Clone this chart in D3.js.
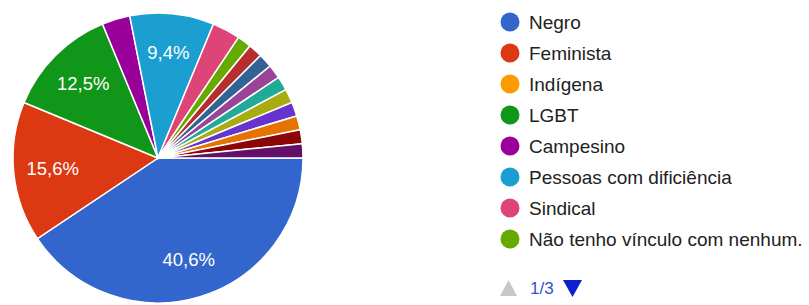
<!DOCTYPE html>
<html><head><meta charset="utf-8">
<script src="https://cdn.jsdelivr.net/npm/d3@7"></script>
<style>html,body{margin:0;padding:0;background:#fff;}svg{display:block;}</style>
</head><body><svg id="c" width="809" height="305"></svg>
<script>
const categories = ["Negro","Feminista","Indígena","LGBT","Campesino","Pessoas com dificiência","Sindical","Não tenho vínculo com nenhum.",
  "Outro 9","Outro 10","Outro 11","Outro 12","Outro 13","Outro 14","Outro 15","Outro 16","Outro 17"];
const counts = [26,10,0,8,2,6,2,1,1,1,1,1,1,1,1,1,1];
const colors = ["#3366cc","#dc3912","#ff9900","#109618","#990099","#1a9fd0","#dd4477","#66aa00","#b82e2e","#316395","#994499","#22aa99","#aaaa11","#6633cc","#e67300","#8b0707","#651067"];
const legendPage = "1/3";
const legendCount = 8;

const svg = d3.select("#c");
const cx = 158, cy = 158, R = 145;
const total = d3.sum(counts);
const data = categories.map((c,i)=>({name:c, value:counts[i], color:colors[i]}));
const pie = d3.pie().value(d=>d.value).sort(null).startAngle(Math.PI/2).endAngle(Math.PI/2 + 2*Math.PI);
const arcs = pie(data).filter(a=>a.data.value>0);
const arc = d3.arc().innerRadius(0).outerRadius(R);
const labelArc = d3.arc().innerRadius(R*0.73).outerRadius(R*0.73);
const g = svg.append("g").attr("transform",`translate(${cx},${cy})`);
g.selectAll("path").data(arcs).join("path").attr("d",arc).attr("fill",d=>d.data.color)
  .attr("stroke","#fff").attr("stroke-width",1.5);
const fmt = v => (v/total*100).toFixed(1).replace(".",",")+"%";
g.selectAll("text").data(arcs.filter(a=>a.data.value/total>0.05)).join("text")
  .attr("transform",d=>`translate(${labelArc.centroid(d)})`)
  .attr("text-anchor","middle").attr("dy","0.35em")
  .attr("fill","#fff").attr("font-family","'Liberation Sans',Arial,sans-serif").attr("font-size",18.5)
  .text(d=>fmt(d.data.value));

const lg = svg.append("g").attr("transform","translate(510,22)");
const items = data.slice(0,legendCount);
const row = lg.selectAll("g").data(items).join("g").attr("transform",(d,i)=>`translate(0,${i*31})`);
row.append("circle").attr("r",9.5).attr("fill",d=>d.color);
row.append("text").attr("x",19).attr("dy","0.35em").attr("fill","#222")
  .attr("font-family","'Liberation Sans',Arial,sans-serif").attr("font-size",19).text(d=>d.name);

const pg = svg.append("g").attr("transform","translate(500,288)");
pg.append("path").attr("d","M0,8 L17,8 L8.5,-8 Z").attr("fill","#c8c8c8");
pg.append("text").attr("x",30).attr("dy","0.35em").attr("fill","#2a55cc")
  .attr("font-family","'Liberation Sans',Arial,sans-serif").attr("font-size",17).text(legendPage);
pg.append("path").attr("d","M63,-8 L82,-8 L72.5,9 Z").attr("fill","#0b1fd0");
</script></body></html>
